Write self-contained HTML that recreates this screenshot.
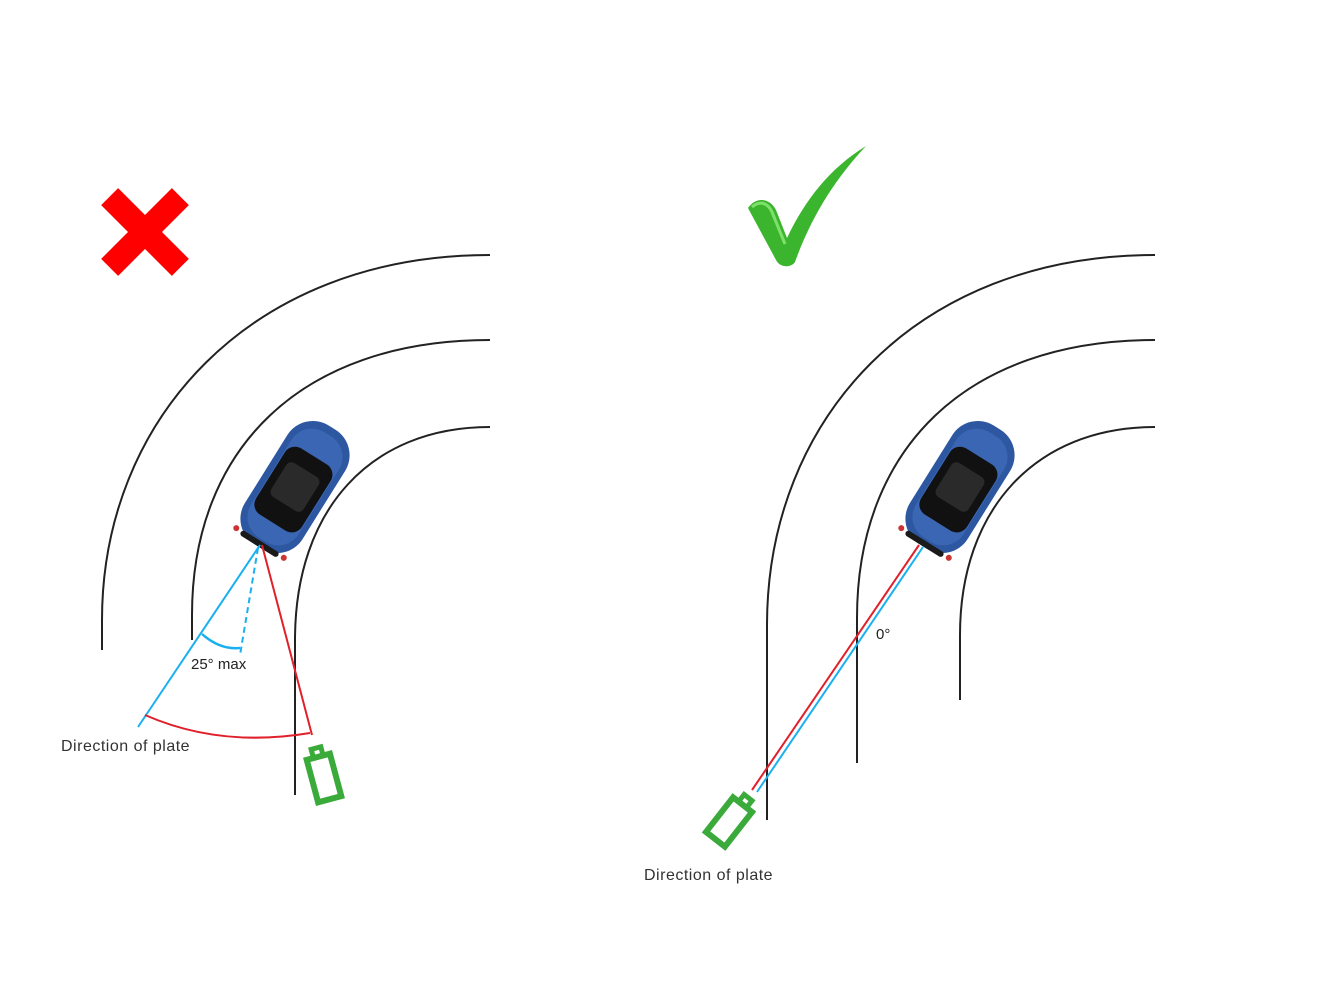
<!DOCTYPE html>
<html><head><meta charset="utf-8"><style>
html,body{margin:0;padding:0;background:#fff;}
svg{display:block;}
text{font-family:"Liberation Sans",sans-serif;}
</style></head><body>
<svg width="1335" height="999" viewBox="0 0 1335 999" xmlns="http://www.w3.org/2000/svg">
<defs>
<g id="car">
  <rect x="-70" y="-34" width="140" height="68" rx="30" fill="#2d57a0"/>
  <rect x="-62" y="-28" width="124" height="56" rx="24" fill="#3b66b3"/>
  <rect x="-42" y="-27" width="78" height="54" rx="12" fill="#111"/>
  <rect x="-20" y="-19" width="40" height="38" rx="6" fill="#2a2a2a"/>
  <rect x="-70" y="-22" width="6" height="44" rx="3" fill="#1a1a1a"/>
  <circle cx="-66" cy="-28" r="3" fill="#c33"/>
  <circle cx="-66" cy="28" r="3" fill="#c33"/>
</g>
</defs>

<!-- Red X -->
<g transform="translate(145,232)">
  <rect x="-12" y="-50" width="24" height="100" fill="#f00" transform="rotate(45)"/>
  <rect x="-12" y="-50" width="24" height="100" fill="#f00" transform="rotate(-45)"/>
</g>

<!-- Check mark -->
<path d="M748,208 C756,196 770,198 776,210 L787,238 C805,200 830,168 866,146 C836,178 812,215 795,262 C791,268 780,268 776,260 Z" fill="#3cb52e"/>
<path d="M752,207 C760,200 768,203 772,212 L785,244" stroke="#7ee06a" stroke-width="3" fill="none"/>

<!-- Left roads -->
<g fill="none" stroke="#222" stroke-width="2">
  <path d="M102,650 L102,620 C102,420 250,255 490,255"/>
  <path d="M192,640 L192,615 C192,450 300,340 490,340"/>
  <path d="M295,795 L295,640 C295,510 370,427 490,427"/>
</g>
<!-- Right roads -->
<g fill="none" stroke="#222" stroke-width="2">
  <path d="M767,820 L767,625 C767,420 915,255 1155,255"/>
  <path d="M857,763 L857,618 C857,450 965,340 1155,340"/>
  <path d="M960,700 L960,635 C960,510 1035,427 1155,427"/>
</g>

<!-- Left cars & lines -->
<g transform="translate(295,487) rotate(-58)"><use href="#car"/></g>
<line x1="260" y1="545" x2="138" y2="727" stroke="#1ab0f0" stroke-width="2"/>
<line x1="258" y1="548" x2="240" y2="655" stroke="#1ab0f0" stroke-width="2" stroke-dasharray="6,4"/>
<path d="M202,634 Q220,650 240,648" fill="none" stroke="#1ab0f0" stroke-width="2.5"/>
<line x1="262" y1="545" x2="312" y2="735" stroke="#e0202a" stroke-width="2"/>
<path d="M145,715 Q220,748 310,733" fill="none" stroke="#e0202a" stroke-width="2"/>
<text x="191" y="669" font-size="15" fill="#222">25° max</text>
<text x="61" y="751" font-size="16" letter-spacing="0.5" fill="#333">Direction of plate</text>
<g transform="translate(324,778) rotate(-15)" fill="none" stroke="#3aaa3a" stroke-width="6">
  <rect x="-12" y="-22" width="24" height="44"/>
  <rect x="-5" y="-31" width="10" height="9" stroke-width="5"/>
</g>

<!-- Right car & lines -->
<g transform="translate(960,487) rotate(-58)"><use href="#car"/></g>
<line x1="919" y1="545" x2="752" y2="790" stroke="#e0202a" stroke-width="2"/>
<line x1="923" y1="547" x2="757" y2="792" stroke="#1ab0f0" stroke-width="2"/>
<text x="876" y="639" font-size="15" fill="#222">0°</text>
<text x="644" y="880" font-size="16" letter-spacing="0.5" fill="#333">Direction of plate</text>
<g transform="translate(729,822) rotate(38)" fill="none" stroke="#3aaa3a" stroke-width="6">
  <rect x="-12" y="-22" width="24" height="44"/>
  <rect x="-5" y="-31" width="10" height="9" stroke-width="5"/>
</g>
</svg>
</body></html>
